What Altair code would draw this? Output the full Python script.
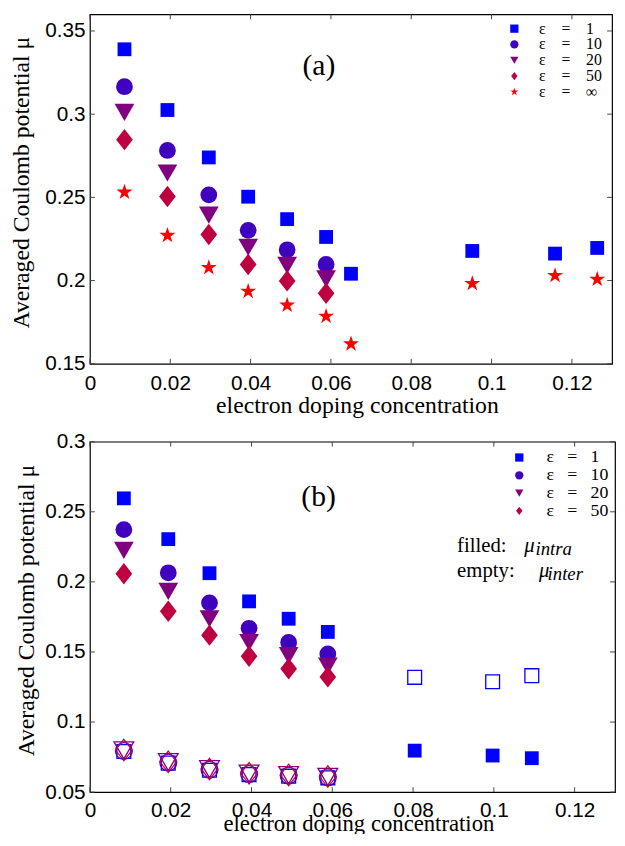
import altair as alt
import pandas as pd

# ---------------- panel (a) values ----------------
xa = [0.0086, 0.0193, 0.0296, 0.0394, 0.0491, 0.0588, 0.0650, 0.0952, 0.1158, 0.1263]
xa6 = xa[:6]
a_eps1 = [0.3390, 0.3025, 0.2740, 0.2504, 0.2369, 0.2262, 0.2041, 0.2178, 0.2162, 0.2196]
a_eps10 = [0.3165, 0.2782, 0.2515, 0.2302, 0.2185, 0.2097]
a_eps20 = [0.3011, 0.2646, 0.2393, 0.2200, 0.2091, 0.2010]
a_eps50 = [0.2847, 0.2505, 0.2277, 0.2097, 0.1998, 0.1923]
a_epsinf = [0.2531, 0.2271, 0.2078, 0.1935, 0.1852, 0.1785, 0.1619, 0.1982, 0.2030, 0.2008]

# ---------------- panel (b) values ----------------
xb = [0.0084, 0.0194, 0.0296, 0.0394, 0.0492, 0.0589, 0.0804, 0.0997, 0.1094]
xb6 = xb[:6]
b_intra_eps1 = [0.2596, 0.2305, 0.2062, 0.1861, 0.1737, 0.1643, 0.0796, 0.0761, 0.0742]
b_intra_eps10 = [0.2373, 0.2065, 0.1850, 0.1669, 0.1568, 0.1486]
b_intra_eps20 = [0.2225, 0.1932, 0.1737, 0.1568, 0.1474, 0.1399]
b_intra_eps50 = [0.2058, 0.1791, 0.1620, 0.1470, 0.1380, 0.1322]
b_inter_eps1 = [0.0790, 0.0707, 0.0656, 0.0625, 0.0614, 0.0602, 0.1319, 0.1287, 0.1331]
b_inter_eps10 = [0.0794, 0.0711, 0.0660, 0.0629, 0.0618, 0.0606]
b_inter_eps20 = [0.0798, 0.0714, 0.0663, 0.0632, 0.0621, 0.0609]
b_inter_eps50 = [0.0800, 0.0716, 0.0665, 0.0634, 0.0623, 0.0611]

# ---------------- labels / ticks ----------------
eps_vals = ["1", "10", "20", "50", "∞"]
labels_a = [f"ε\u2003=\u2003{v}" for v in eps_vals]
labels_b = [f"ε\u2002\u2005=\u2002\u2005{v}" for v in eps_vals[:4]]
x_ticks = [0, 0.02, 0.04, 0.06, 0.08, 0.1, 0.12]
y_ticks_a = [0.15, 0.2, 0.25, 0.3, 0.35]
y_ticks_b = [0.05, 0.1, 0.15, 0.2, 0.25, 0.3]
x_title = "electron doping concentration"
y_title = "Averaged Coulomb potential μ"

# ---------------- styles ----------------
colors = ["#0000FF", "#4000BF", "#800080", "#BF0040", "#FF0000"]
DIAMOND = "M0,-1L0.78,0L0,1L-0.78,0Z"
STAR = ("M0,-1L0.225,-0.309L0.951,-0.309L0.363,0.118L0.588,0.809L0,0.382"
        "L-0.588,0.809L-0.363,0.118L-0.951,-0.309L-0.225,-0.309Z")
shapes = ["square", "circle", "triangle-down", DIAMOND, STAR]
sizes = [196, 289, 400, 471, 290]
SERIF = "Liberation Serif, Times New Roman, DejaVu Serif, serif"
SANS = "Liberation Sans, Arial, sans-serif"
TICK_COLOR = "#444444"


def x_enc(title_x, title_y, title_size, title_baseline, label_pad):
    return alt.X("x:Q", scale=alt.Scale(domain=[0, 0.13], nice=False, zero=False),
                 axis=alt.Axis(values=x_ticks, format="~g", title=x_title, labelFlush=False,
                               labelFont=SANS, labelFontSize=21, labelColor="black",
                               labelPadding=label_pad, titleFont=SERIF, titleFontSize=title_size,
                               titleFontWeight="normal", titleColor="black",
                               titleX=title_x, titleY=title_y, titleAlign="center",
                               titleBaseline=title_baseline, domain=False, ticks=False,
                               tickSize=0, grid=False))


def y_enc(domain, ticks, H, title_x):
    return alt.Y("y:Q", scale=alt.Scale(domain=domain, nice=False, zero=False),
                 axis=alt.Axis(values=ticks, format="~g", title=y_title,
                               labelFont=SANS, labelFontSize=21, labelColor="black",
                               labelPadding=5, titleFont=SERIF, titleFontSize=24,
                               titleFontWeight="normal", titleColor="black",
                               titleX=title_x, titleY=H / 2 - 7, titleAngle=270,
                               titleAlign="center", titleBaseline="middle",
                               domain=False, ticks=False, tickSize=0, grid=False))


def tick_layers(X, Y, yt, W, H):
    dfx = pd.DataFrame({"x": x_ticks})
    dfy = pd.DataFrame({"y": yt})
    bx = alt.Chart(dfx).mark_rule(color=TICK_COLOR, strokeWidth=1)
    by = alt.Chart(dfy).mark_rule(color=TICK_COLOR, strokeWidth=1)
    return [
        bx.encode(x=X, y=alt.value(H), y2=alt.value(H - 5)),
        bx.encode(x=X, y=alt.value(0), y2=alt.value(5)),
        by.encode(y=Y, x=alt.value(0), x2=alt.value(5)),
        by.encode(y=Y, x=alt.value(W), x2=alt.value(W - 5)),
    ]


def legend(lx, ly, fs, off):
    return alt.Legend(title=None, orient="none", legendX=lx, legendY=ly, padding=0,
                      labelFont=SERIF, labelFontSize=fs, labelColor="black",
                      symbolSize=70, symbolStrokeWidth=0, rowPadding=0, labelOffset=off)


# ---------------- panel (a) ----------------
WA, HA = 529, 354
XA = x_enc(270.5, 42, 24, "middle", 9)
YA = y_enc([0.15, 0.36], y_ticks_a, HA, -69)
leg_a = legend(422, 6.5, 16, 17)
CA = alt.Color("series:N", scale=alt.Scale(domain=labels_a, range=colors), legend=leg_a)
SA = alt.Shape("series:N", scale=alt.Scale(domain=labels_a, range=shapes), legend=leg_a)

series_a = [(xa, a_eps1), (xa6, a_eps10), (xa6, a_eps20), (xa6, a_eps50), (xa, a_epsinf)]
layers_a = tick_layers(XA, YA, y_ticks_a, WA, HA)
for i, (xs, ys) in enumerate(series_a):
    df = pd.DataFrame({"x": xs, "y": ys, "series": labels_a[i]})
    layers_a.append(alt.Chart(df).mark_point(filled=True, size=sizes[i], opacity=1)
                    .encode(x=XA, y=YA, color=CA, shape=SA))
ann_a = pd.DataFrame({"x": [0.057], "y": [0.329], "text": ["(a)"]})
layers_a.append(alt.Chart(ann_a).mark_text(font=SERIF, fontSize=30, color="black")
                .encode(x=XA, y=YA, text="text:N"))
panel_a = alt.layer(*layers_a).properties(width=WA, height=HA)

# ---------------- panel (b) ----------------
WB, HB = 532, 355
XB = x_enc(272, 38.5, 23, "alphabetic", 8)
YB = y_enc([0.05, 0.3], y_ticks_b, HB, -64)
leg_b = legend(426, 7, 18, 18.5)
CB = alt.Color("series:N", scale=alt.Scale(domain=labels_b, range=colors[:4]), legend=leg_b)
SB = alt.Shape("series:N", scale=alt.Scale(domain=labels_b, range=shapes[:4]), legend=leg_b)

layers_b = tick_layers(XB, YB, y_ticks_b, WB, HB)
series_b_inter = [(xb, b_inter_eps1), (xb6, b_inter_eps10), (xb6, b_inter_eps20), (xb6, b_inter_eps50)]
for i, (xs, ys) in enumerate(series_b_inter):
    df = pd.DataFrame({"x": xs, "y": ys})
    layers_b.append(alt.Chart(df).mark_point(filled=False, shape=shapes[i], color=colors[i],
                                             size=sizes[i], strokeWidth=1.3, opacity=1)
                    .encode(x=XB, y=YB))
series_b_intra = [(xb, b_intra_eps1), (xb6, b_intra_eps10), (xb6, b_intra_eps20), (xb6, b_intra_eps50)]
for i, (xs, ys) in enumerate(series_b_intra):
    df = pd.DataFrame({"x": xs, "y": ys, "series": labels_b[i]})
    layers_b.append(alt.Chart(df).mark_point(filled=True, size=sizes[i], opacity=1)
                    .encode(x=XB, y=YB, color=CB, shape=SB))

ann_b = pd.DataFrame({"x": [0.0566], "y": [0.2606], "text": ["(b)"]})
layers_b.append(alt.Chart(ann_b).mark_text(font=SERIF, fontSize=30, color="black")
                .encode(x=XB, y=YB, text="text:N"))
note_reg = pd.DataFrame({"x": [0.0909, 0.0909], "y": [0.2213, 0.2033], "text": ["filled:", "empty:"]})
note_mu = pd.DataFrame({"x": [0.1075, 0.1112], "y": [0.2213, 0.2033], "text": ["μ", "μ"]})
note_sub = pd.DataFrame({"x": [0.1103, 0.1133], "y": [0.2192, 0.2012], "text": ["intra", "inter"]})
layers_b.append(alt.Chart(note_reg).mark_text(font=SERIF, fontSize=21, align="left",
                                              baseline="alphabetic", color="black")
                .encode(x=XB, y=YB, text="text:N"))
layers_b.append(alt.Chart(note_mu).mark_text(font=SERIF, fontSize=21, fontStyle="italic",
                                             align="left", baseline="alphabetic", color="black")
                .encode(x=XB, y=YB, text="text:N"))
layers_b.append(alt.Chart(note_sub).mark_text(font=SERIF, fontSize=19, fontStyle="italic",
                                              align="left", baseline="alphabetic", color="black")
                .encode(x=XB, y=YB, text="text:N"))
panel_b = alt.layer(*layers_b).properties(width=WB, height=HB)

chart = (
    alt.vconcat(panel_a, panel_b, spacing=12)
    .resolve_scale(x="independent", y="independent", color="independent", shape="independent")
    .resolve_legend(color="independent", shape="independent")
    .properties(autosize=alt.AutoSizeParams(type="none"),
                padding={"left": 83, "top": 1, "right": 534, "bottom": 825})
    .configure_view(stroke="black", strokeWidth=1.2)
)

chart.save("out.html", embed_options={"renderer": "svg", "actions": False})
